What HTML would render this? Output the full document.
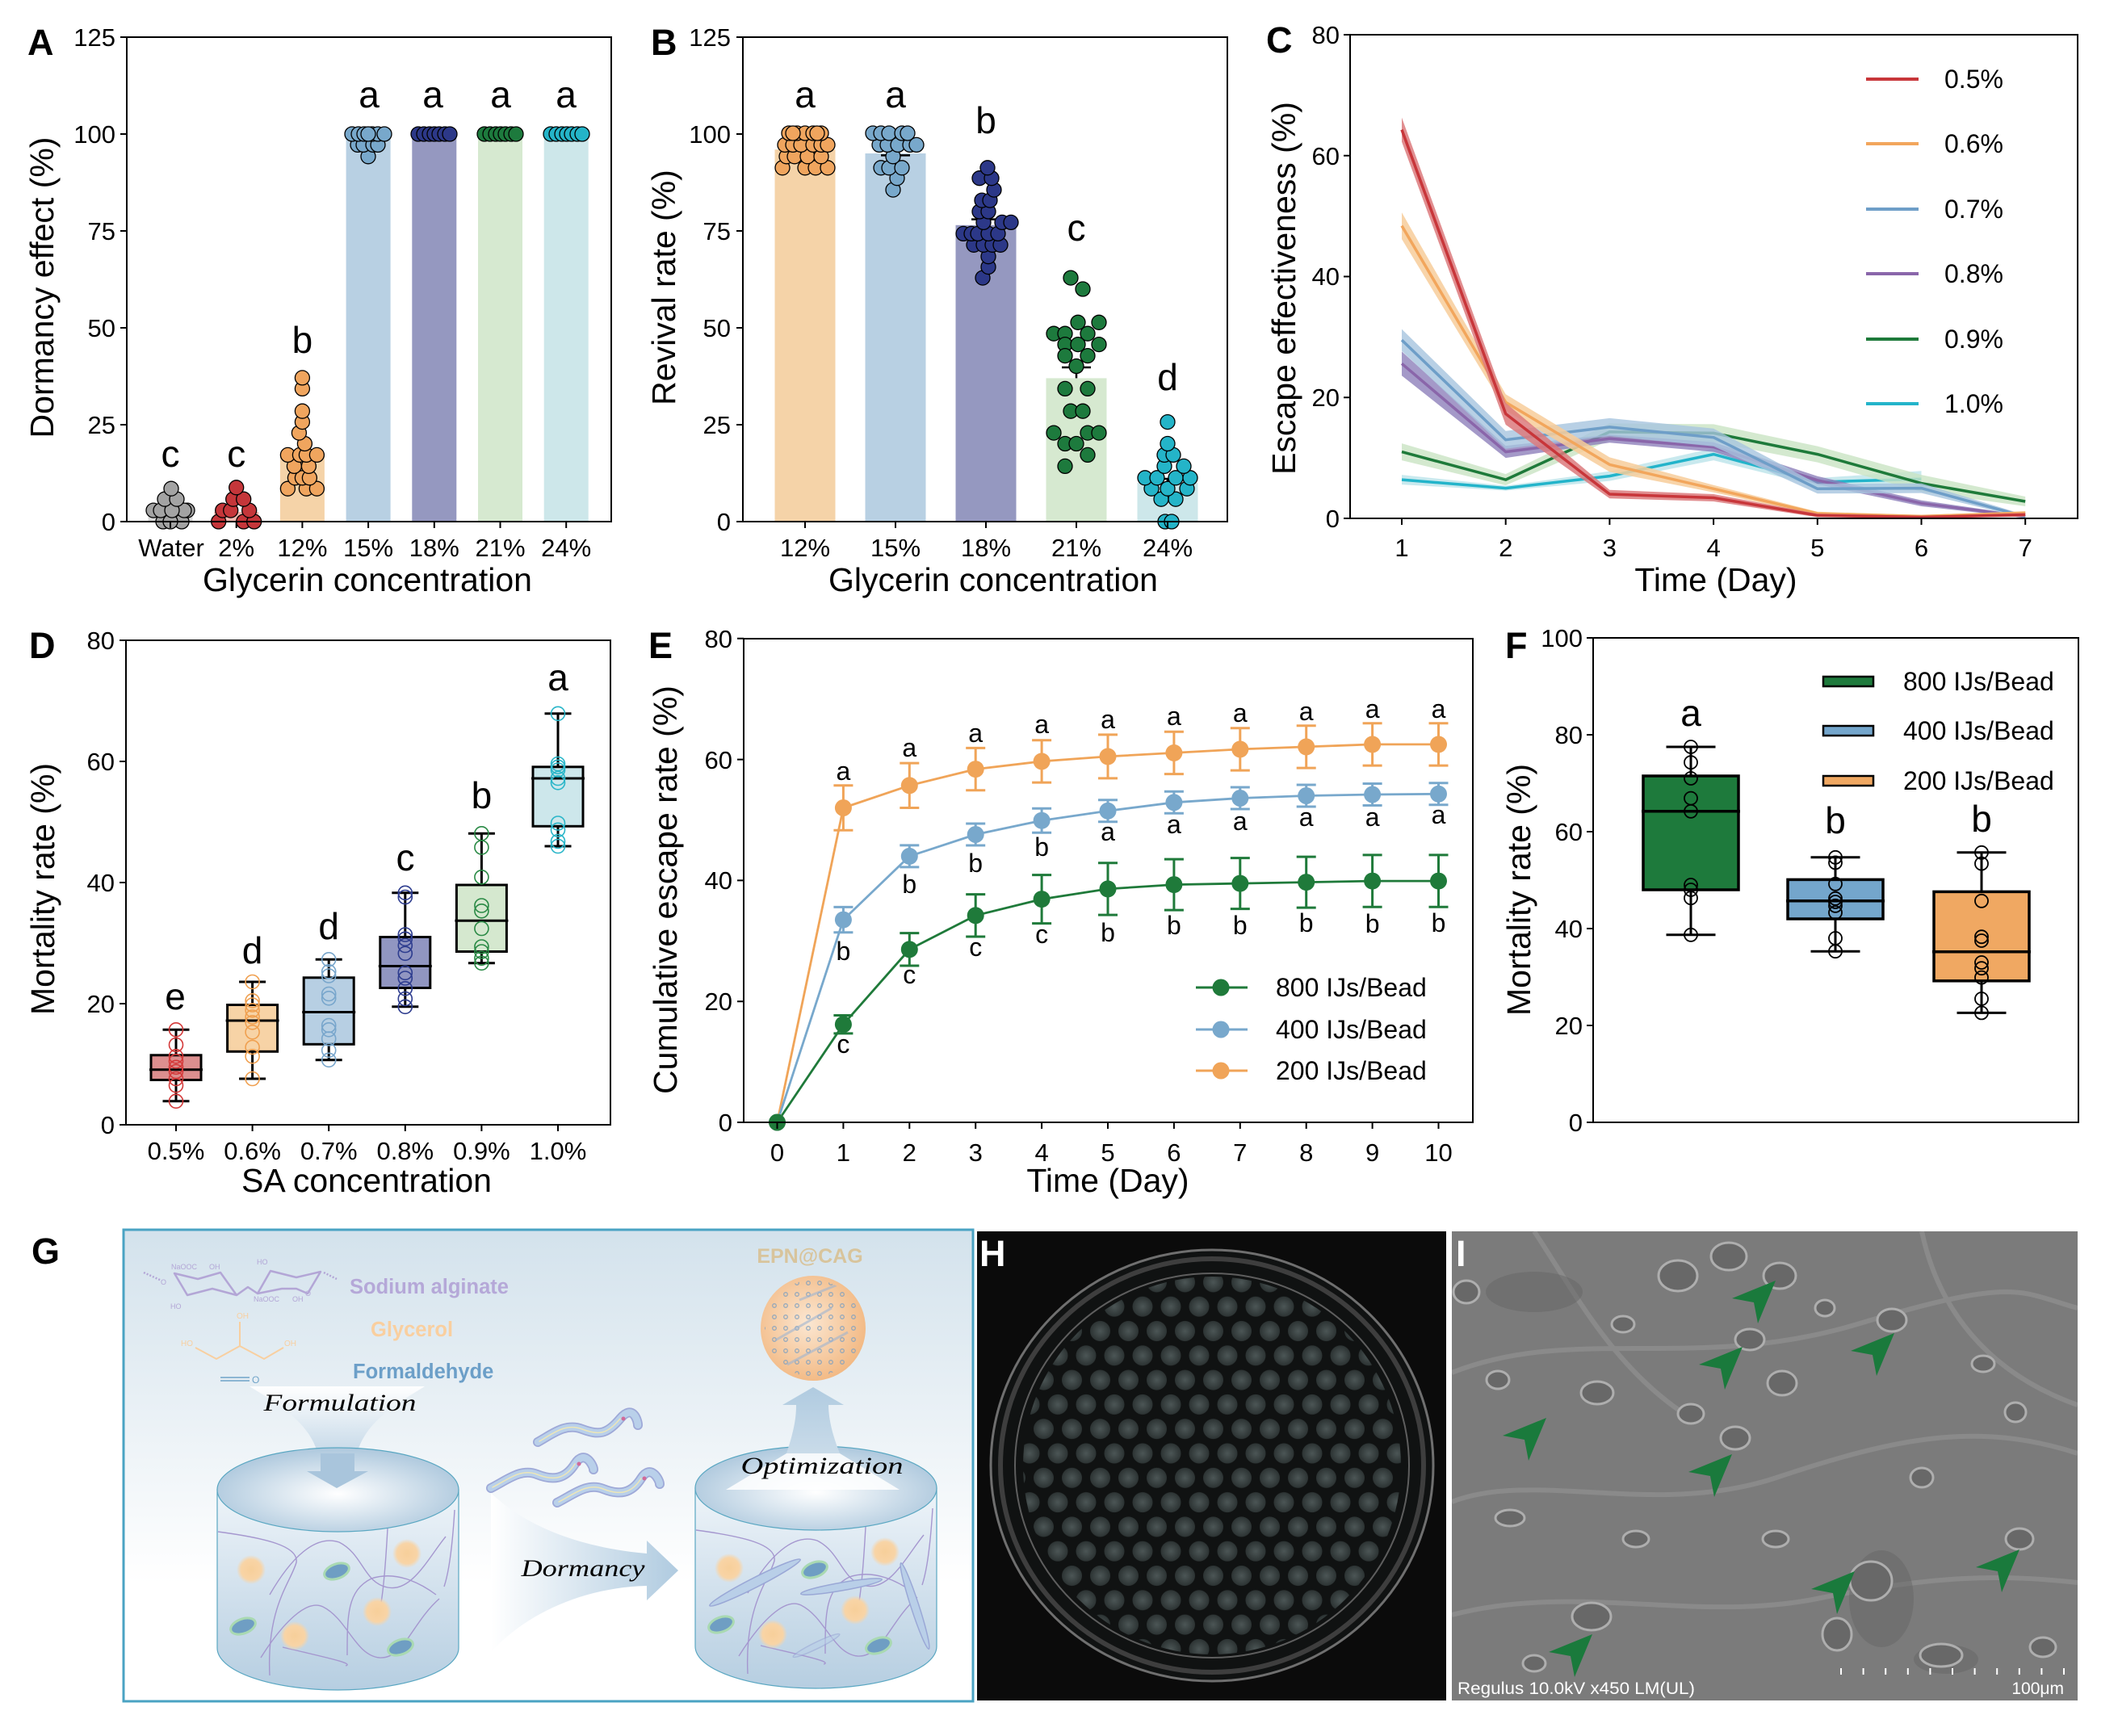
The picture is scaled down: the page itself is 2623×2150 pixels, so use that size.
<!DOCTYPE html>
<html><head><meta charset="utf-8"><style>
html,body{margin:0;padding:0;background:#fff;}
svg{display:block;}
text{font-family:"Liberation Sans",Arial,sans-serif;}
.scr{font-family:"Liberation Serif","DejaVu Serif",serif;font-style:italic;}
</style></head><body>
<svg width="2623" height="2150" viewBox="0 0 2623 2150" xmlns="http://www.w3.org/2000/svg">
<defs>
<linearGradient id="gbg" x1="0" y1="0" x2="0" y2="1"><stop offset="0" stop-color="#d3e2ec"/><stop offset="0.6" stop-color="#f6f9fb"/><stop offset="0.75" stop-color="#ffffff"/></linearGradient>
<linearGradient id="funnel" x1="0" y1="0" x2="0" y2="1"><stop offset="0" stop-color="#ffffff"/><stop offset="1" stop-color="#a8c5dc"/></linearGradient>
<linearGradient id="uparr" x1="0" y1="0" x2="0" y2="1"><stop offset="0" stop-color="#b0cbe0"/><stop offset="1" stop-color="#c9dbe9"/></linearGradient>
<linearGradient id="darr" x1="0" y1="0" x2="1" y2="0"><stop offset="0" stop-color="#ffffff"/><stop offset="1" stop-color="#b0cbe0"/></linearGradient>
<linearGradient id="cylbody" x1="0" y1="0" x2="0" y2="1"><stop offset="0" stop-color="#eef4f9"/><stop offset="1" stop-color="#b6cee1"/></linearGradient>
<radialGradient id="cyltop" cx="0.5" cy="0.55" r="0.6"><stop offset="0" stop-color="#ffffff"/><stop offset="1" stop-color="#a6c3da"/></radialGradient>
<radialGradient id="orb"><stop offset="0" stop-color="#f7cf9a"/><stop offset="0.7" stop-color="#f8d4a6"/><stop offset="1" stop-color="#f8d4a6" stop-opacity="0"/></radialGradient>
<radialGradient id="sph" cx="0.45" cy="0.45" r="0.6"><stop offset="0" stop-color="#fbe7d2"/><stop offset="1" stop-color="#f2b780"/></radialGradient>
<radialGradient id="bead"><stop offset="0" stop-color="#4c5656"/><stop offset="1" stop-color="#2c3333"/></radialGradient>
<pattern id="beads" width="35" height="60.6" patternUnits="userSpaceOnUse" x="1485" y="1800">
<circle cx="0" cy="0" r="12.5" fill="url(#bead)"/><circle cx="35" cy="0" r="12.5" fill="url(#bead)"/><circle cx="0" cy="60.6" r="12.5" fill="url(#bead)"/><circle cx="35" cy="60.6" r="12.5" fill="url(#bead)"/><circle cx="17.5" cy="30.3" r="12.5" fill="url(#bead)"/>
</pattern>
<pattern id="sdots" width="14" height="14" patternUnits="userSpaceOnUse"><circle cx="7" cy="7" r="2.3" fill="none" stroke="#7d9fc0" stroke-width="1.3"/></pattern>
<clipPath id="sphclip"><circle cx="1007" cy="1645" r="60"/></clipPath>
<clipPath id="iclip"><rect x="1798" y="1525" width="775" height="581"/></clipPath>
</defs>

<!-- ================= PANEL A ================= -->
<g>
<rect x="183.5" y="631.6" width="55" height="14.4" fill="#d9d9d9"/>
<rect x="265.2" y="634" width="55" height="12" fill="#f4b9b1"/>
<rect x="346.9" y="564.4" width="55" height="81.6" fill="#f5d3a8"/>
<rect x="428.6" y="166" width="55" height="480" fill="#b8d0e3"/>
<rect x="510.3" y="166" width="55" height="480" fill="#9598c0"/>
<rect x="592" y="166" width="55" height="480" fill="#d6e9d0"/>
<rect x="673.7" y="166" width="55" height="480" fill="#cde7ea"/>
<g stroke="#000" stroke-width="1.3">
<g fill="#a3a3a3"><circle cx="202" cy="646" r="9"/><circle cx="225" cy="646" r="9"/><circle cx="211" cy="646" r="9"/><circle cx="190" cy="632.1" r="9"/><circle cx="199" cy="632.1" r="9"/><circle cx="232" cy="632.1" r="9"/><circle cx="228" cy="632.1" r="9"/><circle cx="213" cy="632.1" r="9"/><circle cx="204" cy="618.2" r="9"/><circle cx="219" cy="618.2" r="9"/><circle cx="212" cy="605.2" r="9"/></g>
<g fill="#c5363a"><circle cx="270.7" cy="646" r="9"/><circle cx="301.7" cy="646" r="9"/><circle cx="314.7" cy="646" r="9"/><circle cx="275.7" cy="632.1" r="9"/><circle cx="285.7" cy="632.1" r="9"/><circle cx="308.7" cy="632.1" r="9"/><circle cx="288.7" cy="618.2" r="9"/><circle cx="301.7" cy="618.2" r="9"/><circle cx="292.7" cy="603.8" r="9"/></g>
<g fill="#f0a55e"><circle cx="356.4" cy="605.2" r="9"/><circle cx="379.4" cy="605.2" r="9"/><circle cx="392.4" cy="605.2" r="9"/><circle cx="365.4" cy="591.8" r="9"/><circle cx="374.4" cy="591.8" r="9"/><circle cx="383.4" cy="591.8" r="9"/><circle cx="364.4" cy="577.4" r="9"/><circle cx="382.4" cy="577.4" r="9"/><circle cx="356.4" cy="563.4" r="9"/><circle cx="371.4" cy="563.4" r="9"/><circle cx="379.4" cy="563.4" r="9"/><circle cx="392.4" cy="563.4" r="9"/><circle cx="377.4" cy="549.5" r="9"/><circle cx="370.4" cy="536.1" r="9"/><circle cx="374.4" cy="522.6" r="9"/><circle cx="374.4" cy="509.2" r="9"/><circle cx="374.4" cy="481.4" r="9"/><circle cx="374.4" cy="467.9" r="9"/></g>
<g fill="#78a8cb"><circle cx="456" cy="193.8" r="9"/><circle cx="443" cy="179.4" r="9"/><circle cx="450" cy="179.4" r="9"/><circle cx="462" cy="179.4" r="9"/><circle cx="468" cy="179.4" r="9"/><circle cx="436" cy="166" r="9"/><circle cx="444" cy="166" r="9"/><circle cx="451" cy="166" r="9"/><circle cx="461" cy="166" r="9"/><circle cx="468" cy="166" r="9"/><circle cx="476" cy="166" r="9"/><circle cx="456" cy="166" r="9"/></g>
<g fill="#2c3888"><circle cx="518" cy="166" r="9"/><circle cx="525" cy="166" r="9"/><circle cx="532" cy="166" r="9"/><circle cx="538" cy="166" r="9"/><circle cx="544" cy="166" r="9"/><circle cx="551" cy="166" r="9"/><circle cx="557" cy="166" r="9"/></g>
<g fill="#1d7a3d"><circle cx="600" cy="166" r="9"/><circle cx="607" cy="166" r="9"/><circle cx="614" cy="166" r="9"/><circle cx="620" cy="166" r="9"/><circle cx="626" cy="166" r="9"/><circle cx="633" cy="166" r="9"/><circle cx="639" cy="166" r="9"/></g>
<g fill="#24b4c8"><circle cx="682" cy="166" r="9"/><circle cx="689" cy="166" r="9"/><circle cx="696" cy="166" r="9"/><circle cx="702" cy="166" r="9"/><circle cx="708" cy="166" r="9"/><circle cx="715" cy="166" r="9"/><circle cx="721" cy="166" r="9"/></g>
</g>
<rect x="157" y="46" width="600" height="600" fill="none" stroke="#000" stroke-width="2"/>
<path d="M149,646H157M149,526H157M149,406H157M149,286H157M149,166H157M149,46H157M211,646V654M292.7,646V654M374.4,646V654M456.1,646V654M537.8,646V654M619.5,646V654M701.2,646V654" stroke="#000" stroke-width="2"/>
<g font-size="31" text-anchor="end"><text x="143" y="657">0</text><text x="143" y="537">25</text><text x="143" y="417">50</text><text x="143" y="297">75</text><text x="143" y="177">100</text><text x="143" y="57">125</text></g>
<g font-size="31" text-anchor="middle"><text x="212" y="689">Water</text><text x="292.7" y="689">2%</text><text x="374.4" y="689">12%</text><text x="456.1" y="689">15%</text><text x="537.8" y="689">18%</text><text x="619.5" y="689">21%</text><text x="701.2" y="689">24%</text></g>
<text x="455" y="732" font-size="41" text-anchor="middle">Glycerin concentration</text>
<text transform="translate(66,356) rotate(-90)" font-size="41" text-anchor="middle">Dormancy effect (%)</text>
<g font-size="46" text-anchor="middle"><text x="211" y="578">c</text><text x="292.7" y="578">c</text><text x="374.4" y="437">b</text><text x="457" y="133">a</text><text x="536" y="133">a</text><text x="620" y="133">a</text><text x="701" y="133">a</text></g>
<text x="34" y="68" font-size="45" font-weight="bold">A</text>
</g>

<!-- ================= PANEL B ================= -->
<g>
<rect x="959.5" y="185.2" width="75" height="460.8" fill="#f5d3a8"/>
<rect x="1071.5" y="190" width="75" height="456" fill="#b8d0e3"/>
<rect x="1183.5" y="278.8" width="75" height="367.2" fill="#9598c0"/>
<rect x="1295.5" y="468.4" width="75" height="177.6" fill="#d6e9d0"/>
<rect x="1408.5" y="598" width="75" height="48" fill="#cde7ea"/>
<path d="M1221,278.8V271.6M1203,271.6H1239M1333,468.4V455M1315,455H1351M1091,192.4H1127M1446,598V593M1428,593H1464" stroke="#000" stroke-width="2.5" fill="none"/>
<g stroke="#000" stroke-width="1.3">
<g fill="#f0a55e"><circle cx="969" cy="207.8" r="9"/><circle cx="997" cy="207.8" r="9"/><circle cx="1010" cy="207.8" r="9"/><circle cx="1025" cy="207.8" r="9"/><circle cx="974" cy="193.8" r="9"/><circle cx="984" cy="193.8" r="9"/><circle cx="1000" cy="193.8" r="9"/><circle cx="1017" cy="193.8" r="9"/><circle cx="972" cy="179.4" r="9"/><circle cx="982" cy="179.4" r="9"/><circle cx="992" cy="179.4" r="9"/><circle cx="1007" cy="179.4" r="9"/><circle cx="1017" cy="179.4" r="9"/><circle cx="1025" cy="179.4" r="9"/><circle cx="977" cy="165" r="9"/><circle cx="987" cy="165" r="9"/><circle cx="997" cy="165" r="9"/><circle cx="1007" cy="165" r="9"/><circle cx="1017" cy="165" r="9"/><circle cx="982" cy="165" r="9"/><circle cx="1012" cy="165" r="9"/></g>
<g fill="#78a8cb"><circle cx="1106" cy="235.1" r="9"/><circle cx="1111" cy="220.7" r="9"/><circle cx="1091" cy="207.8" r="9"/><circle cx="1101" cy="207.8" r="9"/><circle cx="1117" cy="207.8" r="9"/><circle cx="1106" cy="193.8" r="9"/><circle cx="1089" cy="179.4" r="9"/><circle cx="1099" cy="179.4" r="9"/><circle cx="1112" cy="179.4" r="9"/><circle cx="1127" cy="179.4" r="9"/><circle cx="1135" cy="179.4" r="9"/><circle cx="1081" cy="165" r="9"/><circle cx="1091" cy="165" r="9"/><circle cx="1101" cy="165" r="9"/><circle cx="1117" cy="165" r="9"/><circle cx="1124" cy="165" r="9"/></g>
<g fill="#2c3888"><circle cx="1217" cy="344.1" r="9"/><circle cx="1224" cy="330.6" r="9"/><circle cx="1224" cy="317.7" r="9"/><circle cx="1206" cy="303.3" r="9"/><circle cx="1218" cy="303.3" r="9"/><circle cx="1229" cy="303.3" r="9"/><circle cx="1239" cy="303.3" r="9"/><circle cx="1193" cy="289.4" r="9"/><circle cx="1203" cy="289.4" r="9"/><circle cx="1211" cy="289.4" r="9"/><circle cx="1224" cy="289.4" r="9"/><circle cx="1236" cy="289.4" r="9"/><circle cx="1218" cy="275.4" r="9"/><circle cx="1241" cy="275.4" r="9"/><circle cx="1252" cy="275.4" r="9"/><circle cx="1213" cy="262" r="9"/><circle cx="1224" cy="262" r="9"/><circle cx="1216" cy="248.1" r="9"/><circle cx="1226" cy="248.1" r="9"/><circle cx="1231" cy="235.1" r="9"/><circle cx="1213" cy="220.7" r="9"/><circle cx="1228" cy="220.7" r="9"/><circle cx="1223" cy="207.8" r="9"/></g>
<g fill="#1d7a3d"><circle cx="1326" cy="344.1" r="9"/><circle cx="1341" cy="358" r="9"/><circle cx="1335" cy="399.3" r="9"/><circle cx="1361" cy="399.3" r="9"/><circle cx="1305" cy="413.2" r="9"/><circle cx="1319" cy="413.2" r="9"/><circle cx="1347" cy="413.2" r="9"/><circle cx="1319" cy="426.6" r="9"/><circle cx="1335" cy="426.6" r="9"/><circle cx="1361" cy="426.6" r="9"/><circle cx="1319" cy="440.6" r="9"/><circle cx="1347" cy="440.6" r="9"/><circle cx="1333" cy="453.5" r="9"/><circle cx="1319" cy="481.4" r="9"/><circle cx="1347" cy="481.4" r="9"/><circle cx="1326" cy="509.2" r="9"/><circle cx="1341" cy="509.2" r="9"/><circle cx="1305" cy="536.1" r="9"/><circle cx="1347" cy="536.1" r="9"/><circle cx="1361" cy="536.1" r="9"/><circle cx="1319" cy="549.5" r="9"/><circle cx="1333" cy="549.5" r="9"/><circle cx="1347" cy="563.4" r="9"/><circle cx="1319" cy="577.4" r="9"/></g>
<g fill="#24b4c8"><circle cx="1443" cy="646" r="9"/><circle cx="1451" cy="646" r="9"/><circle cx="1438" cy="618.2" r="9"/><circle cx="1456" cy="618.2" r="9"/><circle cx="1426" cy="605.2" r="9"/><circle cx="1446" cy="605.2" r="9"/><circle cx="1470" cy="605.2" r="9"/><circle cx="1418" cy="591.8" r="9"/><circle cx="1433" cy="591.8" r="9"/><circle cx="1456" cy="591.8" r="9"/><circle cx="1474" cy="591.8" r="9"/><circle cx="1442" cy="577.4" r="9"/><circle cx="1466" cy="577.4" r="9"/><circle cx="1442" cy="563.4" r="9"/><circle cx="1453" cy="563.4" r="9"/><circle cx="1446" cy="549.5" r="9"/><circle cx="1446" cy="522.6" r="9"/></g>
</g>
<rect x="920" y="46" width="600" height="600" fill="none" stroke="#000" stroke-width="2"/>
<path d="M912,646H920M912,526H920M912,406H920M912,286H920M912,166H920M912,46H920M997,646V654M1109,646V654M1221,646V654M1333,646V654M1446,646V654" stroke="#000" stroke-width="2"/>
<g font-size="31" text-anchor="end"><text x="905" y="657">0</text><text x="905" y="537">25</text><text x="905" y="417">50</text><text x="905" y="297">75</text><text x="905" y="177">100</text><text x="905" y="57">125</text></g>
<g font-size="31" text-anchor="middle"><text x="997" y="689">12%</text><text x="1109" y="689">15%</text><text x="1221" y="689">18%</text><text x="1333" y="689">21%</text><text x="1446" y="689">24%</text></g>
<text x="1230" y="732" font-size="41" text-anchor="middle">Glycerin concentration</text>
<text transform="translate(836,356) rotate(-90)" font-size="41" text-anchor="middle">Revival rate (%)</text>
<g font-size="46" text-anchor="middle"><text x="997" y="133">a</text><text x="1109" y="133">a</text><text x="1221" y="165">b</text><text x="1333" y="298">c</text><text x="1446" y="483">d</text></g>
<text x="806" y="68" font-size="45" font-weight="bold">B</text>
</g>

<!-- ================= PANEL C ================= -->
<g>
<g stroke-linejoin="round">
<polygon points="1736,588.1 1864.7,601.6 1993.4,583.6 2122.1,555.1 2250.8,592.1 2379.5,583.3 2379.5,603.3 2250.8,602.1 2122.1,570.1 1993.4,595.6 1864.7,607.6 1736,600.1" fill="#b7e1e8" opacity="0.75"/>
<polyline points="1736,594.1 1864.7,604.6 1993.4,589.6 2122.1,562.6 2250.8,597.1 2379.5,593.3" fill="none" stroke="#23b4ca" stroke-width="3.5"/>
<polygon points="1736,549.1 1864.7,587.1 1993.4,524.4 2122.1,525.4 2250.8,552.6 2379.5,588.1 2508.2,615 2508.2,627 2379.5,609.1 2250.8,572.6 2122.1,547.4 1993.4,545.4 1864.7,601.1 1736,570.1" fill="#c9e3c3" opacity="0.8"/>
<polyline points="1736,559.6 1864.7,594.1 1993.4,534.9 2122.1,536.4 2250.8,562.6 2379.5,598.6 2508.2,621" fill="none" stroke="#1e7a3a" stroke-width="3.5"/>
<polygon points="1736,435.3 1864.7,552.1 1993.4,538.2 2122.1,547.6 2250.8,589.8 2379.5,619.6 2508.2,638.3 2508.2,641.3 2379.5,627 2250.8,599.8 2122.1,559.6 1993.4,548.2 1864.7,567.1 1736,465.3" fill="#8d80ba" opacity="0.8"/>
<polyline points="1736,450.3 1864.7,559.6 1993.4,543.2 2122.1,553.6 2250.8,594.8 2379.5,623.3 2508.2,639.8" fill="none" stroke="#8a66aa" stroke-width="3.5"/>
<polygon points="1736,407.6 1864.7,533.7 1993.4,517.9 2122.1,530.7 2250.8,599.3 2379.5,598.6 2508.2,637.8 2508.2,641.8 2379.5,610.6 2250.8,611.3 2122.1,552.7 1993.4,539.9 1864.7,555.7 1736,434.6" fill="#a6c4de" opacity="0.8"/>
<polyline points="1736,421.1 1864.7,544.7 1993.4,528.9 2122.1,541.7 2250.8,605.3 2379.5,604.6 2508.2,639.8" fill="none" stroke="#6e9ec8" stroke-width="3.5"/>
<polygon points="1736,263.1 1864.7,488.2 1993.4,566.4 2122.1,600.8 2250.8,633.8 2379.5,637.9 2508.2,633.1 2508.2,637.5 2379.5,640.9 2250.8,638.2 2122.1,609.8 1993.4,584.4 1864.7,508.2 1736,296.1" fill="#f7cc9a" opacity="0.85"/>
<polyline points="1736,279.6 1864.7,498.2 1993.4,575.4 2122.1,605.3 2250.8,636 2379.5,639.4 2508.2,635.3" fill="none" stroke="#f2a65c" stroke-width="3.5"/>
<polygon points="1736,145.6 1864.7,499 1993.4,606.8 2122.1,612 2250.8,636.1 2379.5,639 2508.2,635.3 2508.2,639.7 2379.5,642 2250.8,640.5 2122.1,621 1993.4,617.2 1864.7,526 1736,175.6" fill="#dc7a7d" opacity="0.85"/>
<polyline points="1736,160.6 1864.7,512.5 1993.4,612 2122.1,616.5 2250.8,638.3 2379.5,640.5 2508.2,637.5" fill="none" stroke="#c8363a" stroke-width="3.5"/>
</g>
<rect x="1672" y="43" width="901" height="599" fill="none" stroke="#000" stroke-width="2"/>
<path d="M1664,642H1672M1664,492.25H1672M1664,342.5H1672M1664,192.75H1672M1664,43H1672M1736,642V650M1864.7,642V650M1993.4,642V650M2122.1,642V650M2250.8,642V650M2379.5,642V650M2508.2,642V650" stroke="#000" stroke-width="2"/>
<g font-size="31" text-anchor="end"><text x="1659" y="653">0</text><text x="1659" y="503">20</text><text x="1659" y="353">40</text><text x="1659" y="204">60</text><text x="1659" y="54">80</text></g>
<g font-size="31" text-anchor="middle"><text x="1736" y="689">1</text><text x="1864.7" y="689">2</text><text x="1993.4" y="689">3</text><text x="2122.1" y="689">4</text><text x="2250.8" y="689">5</text><text x="2379.5" y="689">6</text><text x="2508.2" y="689">7</text></g>
<text x="2125" y="732" font-size="41" text-anchor="middle">Time (Day)</text>
<text transform="translate(1604,357) rotate(-90)" font-size="41" text-anchor="middle">Escape effectiveness (%)</text>
<g stroke-width="4"><path d="M2311,98H2376" stroke="#c8363a"/><path d="M2311,178H2376" stroke="#f2a65c"/><path d="M2311,259H2376" stroke="#6e9ec8"/><path d="M2311,339H2376" stroke="#8a66aa"/><path d="M2311,420H2376" stroke="#1e7a3a"/><path d="M2311,500H2376" stroke="#23b4ca"/></g>
<g font-size="32"><text x="2408" y="109">0.5%</text><text x="2408" y="189">0.6%</text><text x="2408" y="270">0.7%</text><text x="2408" y="350">0.8%</text><text x="2408" y="431">0.9%</text><text x="2408" y="511">1.0%</text></g>
<text x="1568" y="65" font-size="45" font-weight="bold">C</text>
</g>

<!-- ================= PANEL D ================= -->
<g>
<g stroke="#000" stroke-width="3" fill="none">
<path d="M218,1363.8V1275.3M201.5,1363.8H234.5M201.5,1275.3H234.5"/>
<path d="M312.6,1336V1216M296.1,1336H329.1M296.1,1216H329.1"/>
<path d="M407.2,1312.8V1188.3M390.7,1312.8H423.7M390.7,1188.3H423.7"/>
<path d="M501.8,1246.8V1105.8M485.3,1246.8H518.3M485.3,1105.8H518.3"/>
<path d="M596.4,1192.8V1032.3M579.9,1192.8H612.9M579.9,1032.3H612.9"/>
<path d="M691,1048V883.8M674.5,1048H707.5M674.5,883.8H707.5"/>
</g>
<g stroke="#000" stroke-width="3">
<rect x="187" y="1306.8" width="62" height="30.7" fill="#dc8f8f"/>
<rect x="281.6" y="1244.5" width="62" height="57.8" fill="#f7d3a6"/>
<rect x="376.2" y="1210.8" width="62" height="82.5" fill="#b7cfe3"/>
<rect x="470.8" y="1160.5" width="62" height="63" fill="#9196c1"/>
<rect x="565.4" y="1096" width="62" height="82.5" fill="#d5e8cf"/>
<rect x="660" y="949.8" width="62" height="73.5" fill="#cde7eb"/>
<path d="M185,1324.8H251M279.6,1264H345.6M374.2,1253.5H440.2M468.8,1196.5H534.8M563.4,1140.3H629.4M658,964H724" fill="none"/>
</g>
<g fill="none" stroke-width="1.6">
<g stroke="#d43a3a"><circle cx="218" cy="1275.3" r="8.5"/><circle cx="218" cy="1294" r="8.5"/><circle cx="218" cy="1308.3" r="8.5"/><circle cx="218" cy="1314.3" r="8.5"/><circle cx="218" cy="1321.8" r="8.5"/><circle cx="218" cy="1327" r="8.5"/><circle cx="218" cy="1336" r="8.5"/><circle cx="218" cy="1344.3" r="8.5"/><circle cx="218" cy="1363.8" r="8.5"/></g>
<g stroke="#f0a050"><circle cx="312.6" cy="1216" r="8.5"/><circle cx="312.6" cy="1239.3" r="8.5"/><circle cx="312.6" cy="1244.5" r="8.5"/><circle cx="312.6" cy="1251.3" r="8.5"/><circle cx="312.6" cy="1259.5" r="8.5"/><circle cx="312.6" cy="1266.3" r="8.5"/><circle cx="312.6" cy="1278.3" r="8.5"/><circle cx="312.6" cy="1297" r="8.5"/><circle cx="312.6" cy="1308.3" r="8.5"/><circle cx="312.6" cy="1336" r="8.5"/></g>
<g stroke="#78a6cc"><circle cx="407.2" cy="1188.3" r="8.5"/><circle cx="407.2" cy="1203.3" r="8.5"/><circle cx="407.2" cy="1208.5" r="8.5"/><circle cx="407.2" cy="1231" r="8.5"/><circle cx="407.2" cy="1236.3" r="8.5"/><circle cx="407.2" cy="1270" r="8.5"/><circle cx="407.2" cy="1275.3" r="8.5"/><circle cx="407.2" cy="1286.5" r="8.5"/><circle cx="407.2" cy="1300.8" r="8.5"/><circle cx="407.2" cy="1312.8" r="8.5"/></g>
<g stroke="#2e3d8f"><circle cx="501.8" cy="1105.8" r="8.5"/><circle cx="501.8" cy="1111" r="8.5"/><circle cx="501.8" cy="1157.5" r="8.5"/><circle cx="501.8" cy="1162.8" r="8.5"/><circle cx="501.8" cy="1171" r="8.5"/><circle cx="501.8" cy="1180.8" r="8.5"/><circle cx="501.8" cy="1204.8" r="8.5"/><circle cx="501.8" cy="1211.5" r="8.5"/><circle cx="501.8" cy="1224.3" r="8.5"/><circle cx="501.8" cy="1237" r="8.5"/><circle cx="501.8" cy="1246.8" r="8.5"/></g>
<g stroke="#2a8a45"><circle cx="596.4" cy="1032.3" r="8.5"/><circle cx="596.4" cy="1049.5" r="8.5"/><circle cx="596.4" cy="1086.3" r="8.5"/><circle cx="596.4" cy="1121.5" r="8.5"/><circle cx="596.4" cy="1128.3" r="8.5"/><circle cx="596.4" cy="1150" r="8.5"/><circle cx="596.4" cy="1172.5" r="8.5"/><circle cx="596.4" cy="1178.5" r="8.5"/><circle cx="596.4" cy="1186.8" r="8.5"/><circle cx="596.4" cy="1192.8" r="8.5"/></g>
<g stroke="#2ab6c9"><circle cx="691" cy="883.8" r="8.5"/><circle cx="691" cy="946" r="8.5"/><circle cx="691" cy="949.8" r="8.5"/><circle cx="691" cy="953.5" r="8.5"/><circle cx="691" cy="964" r="8.5"/><circle cx="691" cy="969.3" r="8.5"/><circle cx="691" cy="1019.5" r="8.5"/><circle cx="691" cy="1027.8" r="8.5"/><circle cx="691" cy="1042" r="8.5"/><circle cx="691" cy="1048" r="8.5"/></g>
</g>
<rect x="156" y="793" width="600" height="600" fill="none" stroke="#000" stroke-width="2"/>
<path d="M148,1393H156M148,1243H156M148,1093H156M148,943H156M148,793H156M218,1393V1401M312.6,1393V1401M407.2,1393V1401M501.8,1393V1401M596.4,1393V1401M691,1393V1401" stroke="#000" stroke-width="2"/>
<g font-size="31" text-anchor="end"><text x="142" y="1404">0</text><text x="142" y="1254">20</text><text x="142" y="1104">40</text><text x="142" y="954">60</text><text x="142" y="804">80</text></g>
<g font-size="31" text-anchor="middle"><text x="218" y="1436">0.5%</text><text x="312.6" y="1436">0.6%</text><text x="407.2" y="1436">0.7%</text><text x="501.8" y="1436">0.8%</text><text x="596.4" y="1436">0.9%</text><text x="691" y="1436">1.0%</text></g>
<text x="454" y="1476" font-size="41" text-anchor="middle">SA concentration</text>
<text transform="translate(67,1101) rotate(-90)" font-size="41" text-anchor="middle">Mortality rate (%)</text>
<g font-size="46" text-anchor="middle"><text x="217" y="1250">e</text><text x="312.6" y="1193">d</text><text x="407.2" y="1163">d</text><text x="502" y="1078">c</text><text x="596.4" y="1001">b</text><text x="691" y="855">a</text></g>
<text x="36" y="815" font-size="45" font-weight="bold">D</text>
</g>

<!-- ================= PANEL E ================= -->
<g>
<g fill="none" stroke-width="2.8">
<polyline stroke="#f0a458" points="962.5,1390 1044.4,1000.5 1126.3,972.8 1208.2,952.6 1290.1,942.9 1372,936.9 1453.9,932.4 1535.8,927.9 1617.7,924.9 1699.6,921.9 1781.5,921.9"/>
<path stroke="#f0a458" stroke-width="3" d="M1044.4,972.8V1028.2M1032.4,972.8H1056.4M1032.4,1028.2H1056.4M1126.3,945.1V1000.5M1114.3,945.1H1138.3M1114.3,1000.5H1138.3M1208.2,926.4V978.8M1196.2,926.4H1220.2M1196.2,978.8H1220.2M1290.1,916.7V969.1M1278.1,916.7H1302.1M1278.1,969.1H1302.1M1372,909.9V963.9M1360,909.9H1384M1360,963.9H1384M1453.9,906.2V958.6M1441.9,906.2H1465.9M1441.9,958.6H1465.9M1535.8,901.7V954.1M1523.8,901.7H1547.8M1523.8,954.1H1547.8M1617.7,898.7V951.1M1605.7,898.7H1629.7M1605.7,951.1H1629.7M1699.6,895.7V948.1M1687.6,895.7H1711.6M1687.6,948.1H1711.6M1781.5,895.7V948.1M1769.5,895.7H1793.5M1769.5,948.1H1793.5"/>
<polyline stroke="#78a8cc" points="962.5,1390 1044.4,1139.1 1126.3,1060.4 1208.2,1033.5 1290.1,1016.2 1372,1004.3 1453.9,993.8 1535.8,988.5 1617.7,985.5 1699.6,984 1781.5,983.3"/>
<path stroke="#78a8cc" stroke-width="3" d="M1044.4,1123.4V1154.8M1032.4,1123.4H1056.4M1032.4,1154.8H1056.4M1126.3,1046.9V1073.9M1114.3,1046.9H1138.3M1114.3,1073.9H1138.3M1208.2,1020V1047M1196.2,1020H1220.2M1196.2,1047H1220.2M1290.1,1001.2V1031.2M1278.1,1001.2H1302.1M1278.1,1031.2H1302.1M1372,990.8V1017.8M1360,990.8H1384M1360,1017.8H1384M1453.9,980.3V1007.3M1441.9,980.3H1465.9M1441.9,1007.3H1465.9M1535.8,975V1002M1523.8,975H1547.8M1523.8,1002H1547.8M1617.7,972V999M1605.7,972H1629.7M1605.7,999H1629.7M1699.6,970.5V997.5M1687.6,970.5H1711.6M1687.6,997.5H1711.6M1781.5,969.8V996.8M1769.5,969.8H1793.5M1769.5,996.8H1793.5"/>
<polyline stroke="#1f7a3a" points="962.5,1390 1044.4,1268.7 1126.3,1175.8 1208.2,1133.8 1290.1,1113.6 1372,1100.9 1453.9,1095.6 1535.8,1094.1 1617.7,1092.6 1699.6,1091.1 1781.5,1091.1"/>
<path stroke="#1f7a3a" stroke-width="3" d="M1044.4,1257.5V1279.9M1032.4,1257.5H1056.4M1032.4,1279.9H1056.4M1126.3,1155.6V1196M1114.3,1155.6H1138.3M1114.3,1196H1138.3M1208.2,1107.6V1160M1196.2,1107.6H1220.2M1196.2,1160H1220.2M1290.1,1083.6V1143.6M1278.1,1083.6H1302.1M1278.1,1143.6H1302.1M1372,1068.7V1133.1M1360,1068.7H1384M1360,1133.1H1384M1453.9,1064.1V1127.1M1441.9,1064.1H1465.9M1441.9,1127.1H1465.9M1535.8,1062.6V1125.6M1523.8,1062.6H1547.8M1523.8,1125.6H1547.8M1617.7,1061.1V1124.1M1605.7,1061.1H1629.7M1605.7,1124.1H1629.7M1699.6,1058.9V1123.3M1687.6,1058.9H1711.6M1687.6,1123.3H1711.6M1781.5,1058.9V1123.3M1769.5,1058.9H1793.5M1769.5,1123.3H1793.5"/>
</g>
<g fill="#f0a458"><circle cx="962.5" cy="1390" r="10.5"/><circle cx="1044.4" cy="1000.5" r="10.5"/><circle cx="1126.3" cy="972.8" r="10.5"/><circle cx="1208.2" cy="952.6" r="10.5"/><circle cx="1290.1" cy="942.9" r="10.5"/><circle cx="1372" cy="936.9" r="10.5"/><circle cx="1453.9" cy="932.4" r="10.5"/><circle cx="1535.8" cy="927.9" r="10.5"/><circle cx="1617.7" cy="924.9" r="10.5"/><circle cx="1699.6" cy="921.9" r="10.5"/><circle cx="1781.5" cy="921.9" r="10.5"/></g>
<g fill="#78a8cc"><circle cx="962.5" cy="1390" r="10.5"/><circle cx="1044.4" cy="1139.1" r="10.5"/><circle cx="1126.3" cy="1060.4" r="10.5"/><circle cx="1208.2" cy="1033.5" r="10.5"/><circle cx="1290.1" cy="1016.2" r="10.5"/><circle cx="1372" cy="1004.3" r="10.5"/><circle cx="1453.9" cy="993.8" r="10.5"/><circle cx="1535.8" cy="988.5" r="10.5"/><circle cx="1617.7" cy="985.5" r="10.5"/><circle cx="1699.6" cy="984" r="10.5"/><circle cx="1781.5" cy="983.3" r="10.5"/></g>
<g fill="#1f7a3a"><circle cx="962.5" cy="1390" r="10.5"/><circle cx="1044.4" cy="1268.7" r="10.5"/><circle cx="1126.3" cy="1175.8" r="10.5"/><circle cx="1208.2" cy="1133.8" r="10.5"/><circle cx="1290.1" cy="1113.6" r="10.5"/><circle cx="1372" cy="1100.9" r="10.5"/><circle cx="1453.9" cy="1095.6" r="10.5"/><circle cx="1535.8" cy="1094.1" r="10.5"/><circle cx="1617.7" cy="1092.6" r="10.5"/><circle cx="1699.6" cy="1091.1" r="10.5"/><circle cx="1781.5" cy="1091.1" r="10.5"/></g>
<rect x="921" y="791" width="903" height="599" fill="none" stroke="#000" stroke-width="2"/>
<path d="M913,1390H921M913,1240.2H921M913,1090.4H921M913,940.6H921M913,790.8H921M962.5,1390V1398M1044.4,1390V1398M1126.3,1390V1398M1208.2,1390V1398M1290.1,1390V1398M1372,1390V1398M1453.9,1390V1398M1535.8,1390V1398M1617.7,1390V1398M1699.6,1390V1398M1781.5,1390V1398" stroke="#000" stroke-width="2"/>
<g font-size="31" text-anchor="end"><text x="907" y="1401">0</text><text x="907" y="1251">20</text><text x="907" y="1101">40</text><text x="907" y="952">60</text><text x="907" y="802">80</text></g>
<g font-size="31" text-anchor="middle"><text x="962.5" y="1438">0</text><text x="1044.4" y="1438">1</text><text x="1126.3" y="1438">2</text><text x="1208.2" y="1438">3</text><text x="1290.1" y="1438">4</text><text x="1372" y="1438">5</text><text x="1453.9" y="1438">6</text><text x="1535.8" y="1438">7</text><text x="1617.7" y="1438">8</text><text x="1699.6" y="1438">9</text><text x="1781.5" y="1438">10</text></g>
<text x="1372" y="1476" font-size="41" text-anchor="middle">Time (Day)</text>
<text transform="translate(838,1102) rotate(-90)" font-size="41" text-anchor="middle">Cumulative escape rate (%)</text>
<g font-size="32" text-anchor="middle">
<text x="1044.4" y="966">a</text><text x="1126.3" y="937">a</text><text x="1208.2" y="919">a</text><text x="1290.1" y="908">a</text><text x="1372" y="902">a</text><text x="1453.9" y="898">a</text><text x="1535.8" y="894">a</text><text x="1617.7" y="892">a</text><text x="1699.6" y="889">a</text><text x="1781.5" y="889">a</text>
<text x="1044.4" y="1189">b</text><text x="1126.3" y="1106">b</text><text x="1208.2" y="1080">b</text><text x="1290.1" y="1060">b</text><text x="1372" y="1041">a</text><text x="1453.9" y="1032">a</text><text x="1535.8" y="1028">a</text><text x="1617.7" y="1023">a</text><text x="1699.6" y="1023">a</text><text x="1781.5" y="1020">a</text>
<text x="1044.4" y="1304">c</text><text x="1126.3" y="1218">c</text><text x="1208.2" y="1184">c</text><text x="1290.1" y="1168">c</text><text x="1372" y="1166">b</text><text x="1453.9" y="1157">b</text><text x="1535.8" y="1157">b</text><text x="1617.7" y="1154">b</text><text x="1699.6" y="1155">b</text><text x="1781.5" y="1154">b</text>
</g>
<g stroke-width="3"><path d="M1481,1223H1545" stroke="#1f7a3a"/><path d="M1481,1275H1545" stroke="#78a8cc"/><path d="M1481,1326H1545" stroke="#f0a458"/></g>
<circle cx="1512" cy="1223" r="10.5" fill="#1f7a3a"/><circle cx="1512" cy="1275" r="10.5" fill="#78a8cc"/><circle cx="1512" cy="1326" r="10.5" fill="#f0a458"/>
<g font-size="32"><text x="1580" y="1234">800 IJs/Bead</text><text x="1580" y="1286">400 IJs/Bead</text><text x="1580" y="1337">200 IJs/Bead</text></g>
<text x="803" y="815" font-size="45" font-weight="bold">E</text>
</g>

<!-- ================= PANEL F ================= -->
<g>
<g stroke="#000" stroke-width="3" fill="none">
<path d="M2094,1157.8V925M2063.5,1157.8H2124.5M2063.5,925H2124.5"/>
<path d="M2273,1178.2V1061.8M2242.5,1178.2H2303.5M2242.5,1061.8H2303.5"/>
<path d="M2454,1254.4V1055.8M2423.5,1254.4H2484.5M2423.5,1055.8H2484.5"/>
</g>
<g stroke="#000" stroke-width="3.5">
<rect x="2035" y="961" width="118" height="141" fill="#1e7a3c"/>
<rect x="2214" y="1089.4" width="118" height="48.6" fill="#74a6cc"/>
<rect x="2395" y="1104.4" width="118" height="110.4" fill="#f0a862"/>
<path d="M2033,1004.8H2155M2212,1115.8H2334M2393,1178.8H2515" fill="none"/>
</g>
<g fill="none" stroke="#000" stroke-width="1.8">
<circle cx="2094" cy="925" r="8"/><circle cx="2094" cy="944.2" r="8"/><circle cx="2094" cy="964" r="8"/><circle cx="2094" cy="988.6" r="8"/><circle cx="2094" cy="1004.8" r="8"/><circle cx="2094" cy="1096" r="8"/><circle cx="2094" cy="1102" r="8"/><circle cx="2094" cy="1112.2" r="8"/><circle cx="2094" cy="1157.8" r="8"/>
<circle cx="2273" cy="1061.8" r="8"/><circle cx="2273" cy="1068.4" r="8"/><circle cx="2273" cy="1094.8" r="8"/><circle cx="2273" cy="1112.8" r="8"/><circle cx="2273" cy="1117" r="8"/><circle cx="2273" cy="1121.8" r="8"/><circle cx="2273" cy="1130.2" r="8"/><circle cx="2273" cy="1162" r="8"/><circle cx="2273" cy="1178.2" r="8"/>
<circle cx="2454" cy="1055.8" r="8"/><circle cx="2454" cy="1069.6" r="8"/><circle cx="2454" cy="1115.8" r="8"/><circle cx="2454" cy="1160.2" r="8"/><circle cx="2454" cy="1165" r="8"/><circle cx="2454" cy="1192" r="8"/><circle cx="2454" cy="1199.2" r="8"/><circle cx="2454" cy="1210.6" r="8"/><circle cx="2454" cy="1237" r="8"/><circle cx="2454" cy="1254.4" r="8"/>
</g>
<rect x="1973" y="790" width="601" height="600" fill="none" stroke="#000" stroke-width="2"/>
<path d="M1965,1390H1973M1965,1270H1973M1965,1150H1973M1965,1030H1973M1965,910H1973M1965,790H1973" stroke="#000" stroke-width="2"/>
<g font-size="31" text-anchor="end"><text x="1960" y="1401">0</text><text x="1960" y="1281">20</text><text x="1960" y="1161">40</text><text x="1960" y="1041">60</text><text x="1960" y="921">80</text><text x="1960" y="801">100</text></g>
<text transform="translate(1895,1102) rotate(-90)" font-size="41" text-anchor="middle">Mortality rate (%)</text>
<g font-size="46" text-anchor="middle"><text x="2094" y="899">a</text><text x="2273" y="1032">b</text><text x="2454" y="1030">b</text></g>
<g stroke="#000" stroke-width="2.5"><rect x="2258" y="838" width="62" height="12" fill="#1e7a3c"/><rect x="2258" y="899" width="62" height="12" fill="#74a6cc"/><rect x="2258" y="961" width="62" height="12" fill="#f0a862"/></g>
<g font-size="32"><text x="2357" y="855">800 IJs/Bead</text><text x="2357" y="916">400 IJs/Bead</text><text x="2357" y="978">200 IJs/Bead</text></g>
<text x="1864" y="815" font-size="45" font-weight="bold">F</text>
</g>

<!-- ================= PANEL G ================= -->
<g>
<rect x="153" y="1523" width="1052" height="584" fill="url(#gbg)" stroke="#4aa3c3" stroke-width="3"/>
<g fill="none" stroke="#b3a6d6" stroke-width="2.5" stroke-linejoin="round">
<path d="M216,1577 L245,1584 L273,1576 L293,1604 L263,1596 L232,1604 Z"/>
<path d="M319,1602 L335,1574 L367,1582 L397,1575 L381,1602 L367,1596 L349,1596 Z"/>
<path d="M293,1604 L307,1594 L319,1602" />
<path d="M178,1576 L200,1586" stroke-dasharray="2,2"/><path d="M401,1576 L417,1584" stroke-dasharray="2,2"/>
</g>
<g font-size="9" fill="#b3a6d6"><text x="212" y="1572">NaOOC</text><text x="259" y="1572">OH</text><text x="318" y="1566">HO</text><text x="199" y="1591">O</text><text x="211" y="1621">HO</text><text x="314" y="1612">NaOOC</text><text x="362" y="1612">OH</text><text x="378" y="1605">O</text></g>
<text x="433" y="1602" font-size="25.5" font-weight="bold" fill="#b5a8d8">Sodium alginate</text>
<path d="M242,1669 L268,1683 L297,1667 L327,1683 L351,1669 M297,1667 L297,1637" fill="none" stroke="#f8cfa0" stroke-width="2"/>
<g font-size="10" fill="#f8cfa0"><text x="224" y="1667">HO</text><text x="293" y="1633">OH</text><text x="352" y="1667">OH</text></g>
<text x="459" y="1655" font-size="25.5" font-weight="bold" fill="#f9cf9f">Glycerol</text>
<path d="M273,1706H309M273,1710H309" stroke="#6fa3c8" stroke-width="1.5"/>
<text x="312" y="1713" font-size="12" fill="#6fa3c8">O</text>
<text x="437" y="1707" font-size="25.5" font-weight="bold" fill="#6c9fc8">Formaldehyde</text>
<path d="M309,1717 L526,1717 C480,1745 440,1770 439,1822 L456,1822 L417,1843 L380,1822 L397,1822 C395,1770 355,1745 309,1717 Z" fill="url(#funnel)"/>
<text x="421" y="1747" class="scr" font-size="30" text-anchor="middle" textLength="189" lengthAdjust="spacingAndGlyphs">Formulation</text>
<g id="cyl1">
<path d="M269,1845 V2041 A149.5,52 0 0 0 568,2041 V1845 Z" fill="url(#cylbody)" stroke="#5aa7c2" stroke-width="1.2"/>
<g fill="none" stroke="#a597cf" stroke-width="1.4">
<path d="M270,1897 C330,1905 370,1915 367,1935 C360,1960 330,1990 334,2075"/>
<path d="M334,1975 C360,1930 390,1900 420,1910 C450,1925 450,1960 480,1966 C510,1972 530,1930 552,1903"/>
<path d="M323,2053 C350,2010 380,1980 400,1990 C430,2005 440,2050 470,2053 C500,2055 510,2010 544,1980"/>
<path d="M480,1893 C478,1930 476,1960 472,1985"/>
<path d="M563,1870 C560,1920 555,1950 550,1965"/>
<path d="M430,2050 C430,2000 430,1970 460,1955 C490,1945 520,1960 540,1975"/>
<path d="M350,2040 C400,2052 440,2060 428,2063"/>
</g>
<circle cx="311" cy="1944" r="18" fill="url(#orb)"/><circle cx="504" cy="1924" r="18" fill="url(#orb)"/><circle cx="467" cy="1996" r="18" fill="url(#orb)"/><circle cx="365" cy="2026" r="18" fill="url(#orb)"/>
<g fill="#6f9ec3" stroke="#a9d9b2" stroke-width="3"><ellipse cx="417" cy="1946" rx="16" ry="9" transform="rotate(-20 417 1946)"/><ellipse cx="301" cy="2014" rx="16" ry="9" transform="rotate(-20 301 2014)"/><ellipse cx="496" cy="2040" rx="16" ry="9" transform="rotate(-20 496 2040)"/></g>
</g>
<ellipse cx="418.5" cy="1845" rx="149.5" ry="52" fill="url(#cyltop)" stroke="#5aa7c2" stroke-width="1.2"/>
<path d="M397,1800 L439,1800 L439,1822 L456,1822 L417,1843 L380,1822 L397,1822 Z" fill="#a9c5dc"/>
<g fill="none" stroke-linecap="round">
<g stroke="#9ea9d8" stroke-width="12"><path d="M666,1786 C684,1776 700,1762 721,1770 S752,1776 768,1757 S790,1760 790,1765"/><path d="M608,1843 C628,1833 645,1818 665,1826 S700,1832 712,1813 S735,1815 735,1820"/><path d="M690,1861 C710,1851 727,1836 747,1844 S782,1850 794,1831 S817,1833 817,1838"/></g>
<g stroke="#b9d0ea" stroke-width="8.5"><path d="M666,1786 C684,1776 700,1762 721,1770 S752,1776 768,1757 S790,1760 790,1765"/><path d="M608,1843 C628,1833 645,1818 665,1826 S700,1832 712,1813 S735,1815 735,1820"/><path d="M690,1861 C710,1851 727,1836 747,1844 S782,1850 794,1831 S817,1833 817,1838"/></g>
<g stroke="#ece6b8" stroke-width="1.5"><path d="M668,1785 C684,1776 700,1762 721,1770 S752,1776 768,1757"/><path d="M610,1842 C628,1833 645,1818 665,1826 S700,1832 712,1813"/><path d="M692,1860 C710,1851 727,1836 747,1844 S782,1850 794,1831"/></g>
</g>
<g fill="#d06a9a"><circle cx="772" cy="1757" r="2.5"/><circle cx="717" cy="1813" r="2.5"/><circle cx="798" cy="1831" r="2.5"/></g>
<path d="M608,1849 C640,1880 700,1915 801,1924 L801,1908 L840,1945 L801,1982 L801,1964 C720,1966 650,2000 608,2046 Z" fill="url(#darr)"/>
<text x="722" y="1952" class="scr" font-size="30" text-anchor="middle" textLength="153" lengthAdjust="spacingAndGlyphs">Dormancy</text>
<use href="#cyl1" transform="translate(592,-2)"/>
<g fill="#b9cfe8" stroke="#9aa8d6" stroke-width="1.5">
<ellipse cx="935" cy="1960" rx="63" ry="6" transform="rotate(-27 935 1960)"/>
<ellipse cx="1042" cy="1965" rx="51" ry="5" transform="rotate(-10 1042 1965)"/>
<ellipse cx="1133" cy="1989" rx="56" ry="5" transform="rotate(72 1133 1989)"/>
<ellipse cx="1011" cy="2038" rx="32" ry="4" transform="rotate(-26 1011 2038)" opacity="0.6"/>
</g>
<ellipse cx="1010.5" cy="1843" rx="149.5" ry="52" fill="url(#cyltop)" stroke="#5aa7c2" stroke-width="1.2"/>
<polygon points="899,1845 1114,1845 1040,1800 974,1800" fill="#ffffff" opacity="0.85"/>
<path d="M974,1800 C984,1770 986,1755 986,1740 L969,1740 L1007,1718 L1045,1740 L1026,1740 C1026,1755 1030,1775 1040,1800 Z" fill="url(#uparr)"/>
<text x="1018" y="1825" class="scr" font-size="30" text-anchor="middle" textLength="201" lengthAdjust="spacingAndGlyphs">Optimization</text>
<circle cx="1007" cy="1645" r="65" fill="url(#sph)"/>
<g clip-path="url(#sphclip)"><rect x="940" y="1580" width="135" height="135" fill="url(#sdots)" opacity="0.8"/>
<path d="M960,1660 L1030,1620 M975,1690 L1050,1650 M990,1610 L1040,1590" stroke="#9fb5d0" stroke-width="3" opacity="0.6"/></g>
<text x="1003" y="1564" font-size="25" font-weight="bold" fill="#d8c49c" text-anchor="middle">EPN@CAG</text>
<text x="39" y="1565" font-size="45" font-weight="bold">G</text>
</g>

<!-- ================= PANEL H ================= -->
<g>
<rect x="1210" y="1525" width="581" height="581" fill="#0b0b0b"/>
<ellipse cx="1501" cy="1815" rx="274" ry="267" fill="#101212" stroke="#6f6f6f" stroke-width="3"/>
<ellipse cx="1501" cy="1815" rx="262" ry="256" fill="none" stroke="#3e3e3e" stroke-width="6"/>
<ellipse cx="1501" cy="1815" rx="244" ry="238" fill="none" stroke="#5e5e5e" stroke-width="2"/>
<circle cx="1501" cy="1815" r="234" fill="url(#beads)"/>
<text x="1213" y="1568" font-size="45" font-weight="bold" fill="#fff">H</text>
</g>

<!-- ================= PANEL I ================= -->
<g clip-path="url(#iclip)">
<rect x="1798" y="1525" width="775" height="581" fill="#7b7b7b"/>
<g fill="none" stroke="#959595" stroke-width="6" opacity="0.6">
<path d="M1798,1700 C1950,1640 2100,1700 2300,1640 S2500,1600 2573,1620"/>
<path d="M1798,1860 C1900,1820 2050,1880 2200,1830 S2450,1760 2573,1800"/>
<path d="M1798,2000 C1950,1960 2100,2010 2250,1980 S2480,1950 2573,1960"/>
<path d="M1900,1525 C1950,1600 2000,1700 2100,1760"/>
<path d="M2380,1525 C2400,1620 2460,1700 2573,1740"/>
</g>
<g fill="#666" opacity="0.5"><ellipse cx="2330" cy="1980" rx="40" ry="60"/><ellipse cx="2410" cy="2055" rx="40" ry="18"/><ellipse cx="1900" cy="1600" rx="60" ry="25"/></g>
<g fill="#686868" stroke="#aeaeae" stroke-width="3">
<ellipse cx="2141" cy="1556" rx="22" ry="17"/><ellipse cx="2078" cy="1580" rx="24" ry="19"/><ellipse cx="2204" cy="1580" rx="20" ry="16"/><ellipse cx="1816" cy="1600" rx="16" ry="14"/><ellipse cx="2343" cy="1635" rx="18" ry="14"/><ellipse cx="2167" cy="1659" rx="18" ry="13"/><ellipse cx="1978" cy="1725" rx="20" ry="14"/><ellipse cx="2207" cy="1713" rx="18" ry="15"/><ellipse cx="2149" cy="1781" rx="18" ry="14"/><ellipse cx="2094" cy="1751" rx="16" ry="12"/><ellipse cx="1855" cy="1709" rx="14" ry="11"/><ellipse cx="2496" cy="1749" rx="13" ry="12"/><ellipse cx="2501" cy="1906" rx="17" ry="13"/><ellipse cx="2317" cy="1958" rx="26" ry="24"/><ellipse cx="2275" cy="2024" rx="18" ry="20"/><ellipse cx="1971" cy="2002" rx="24" ry="17"/><ellipse cx="2404" cy="2050" rx="26" ry="14"/><ellipse cx="2199" cy="1906" rx="16" ry="10"/><ellipse cx="2026" cy="1906" rx="16" ry="10"/><ellipse cx="2456" cy="1689" rx="14" ry="10"/><ellipse cx="1870" cy="1880" rx="18" ry="10"/><ellipse cx="2380" cy="1830" rx="14" ry="12"/><ellipse cx="1900" cy="2060" rx="14" ry="10"/><ellipse cx="2530" cy="2040" rx="16" ry="12"/><ellipse cx="2260" cy="1620" rx="12" ry="10"/><ellipse cx="2010" cy="1640" rx="14" ry="10"/></g>
<g fill="#1a7a3c">
<path d="M2199,1586 l-54,22 l27,5 l5,26 z"/>
<path d="M2158,1668 l-54,22 l27,5 l5,26 z"/>
<path d="M2346,1651 l-54,22 l27,5 l5,26 z"/>
<path d="M1915,1756 l-54,22 l27,5 l5,26 z"/>
<path d="M2145,1801 l-54,22 l27,5 l5,26 z"/>
<path d="M2297,1946 l-54,22 l27,5 l5,26 z"/>
<path d="M2501,1919 l-54,22 l27,5 l5,26 z"/>
<path d="M1972,2024 l-54,22 l27,5 l5,26 z"/>
</g>
<path d="M2280,2066V2074M2307.6,2066V2074M2335.2,2066V2074M2362.8,2066V2074M2390.4,2066V2074M2418,2066V2074M2445.6,2066V2074M2473.2,2066V2074M2500.8,2066V2074M2528.4,2066V2074M2556,2066V2074" stroke="#fff" stroke-width="2"/>
<text x="1805" y="2098" font-size="21" fill="#fff" textLength="294" lengthAdjust="spacingAndGlyphs">Regulus 10.0kV x450 LM(UL)</text>
<text x="2556" y="2098" font-size="21" fill="#fff" text-anchor="end">100μm</text>
<text x="1803" y="1568" font-size="45" font-weight="bold" fill="#fff">I</text>
</g>
</svg>
</body></html>
